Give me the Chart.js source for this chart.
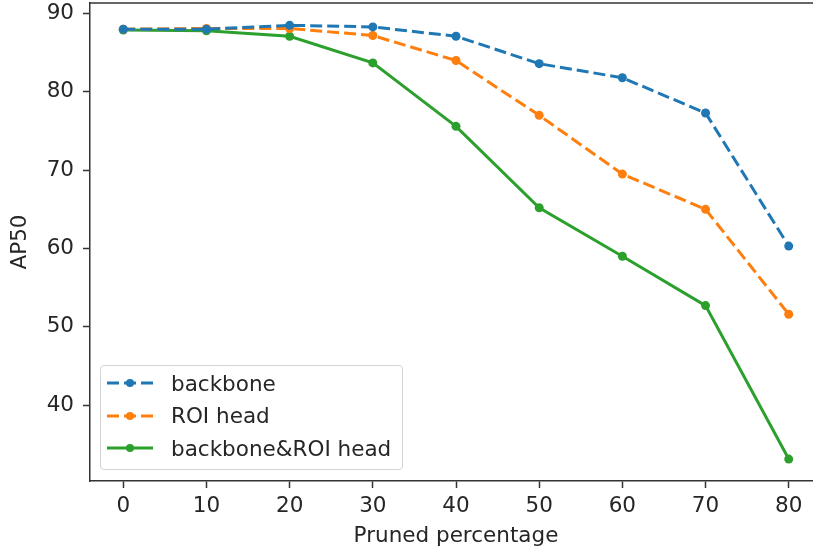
<!DOCTYPE html>
<html>
<head>
<meta charset="utf-8">
<script src="https://cdn.jsdelivr.net/npm/chart.js@4/dist/chart.umd.min.js"></script>
<style>
  html, body { margin: 0; padding: 0; background: #fff; overflow: hidden; }
  #wrap { position: relative; width: 813px; height: 552px; overflow: hidden; background: #fff; }
  #c { display: block; }
  #legend {
    position: absolute; left: 100px; top: 365px; width: 301px; height: 103px;
    border: 1px solid #d4d4d4; border-radius: 4px; background: rgba(255,255,255,0.85);
    font-family: "DejaVu Sans", sans-serif; font-size: 21.5px; color: #262626;
  }
  #legend .row { position: absolute; left: 0; height: 32px; display: flex; align-items: center; }
  #legend svg { margin-left: 6px; margin-right: 18px; }
</style>
</head>
<body>
<div id="wrap">
  <canvas id="c" width="830" height="552"></canvas>
  <div id="legend"></div>
</div>
<script>
// pruned percentage on x
const pruned = [0, 10, 20, 30, 40, 50, 60, 70, 80];
// AP50
const backbone    = [88.0, 88.0, 88.5, 88.3, 87.1, 83.6, 81.8, 77.3, 60.3];
const roiHead     = [88.0, 88.1, 88.1, 87.2, 84.0, 77.0, 69.5, 65.0, 51.6];
const bothPruned  = [87.9, 87.8, 87.1, 83.7, 75.6, 65.2, 59.0, 52.7, 33.1];
const seriesNames = ['backbone', 'ROI head', 'backbone&ROI head'];

const FONT = { family: '"DejaVu Sans", sans-serif', size: 21.5 };
const INK = '#262626';

function pts(vals){ return pruned.map((x, i) => ({ x: x, y: vals[i] })); }

function line(label, vals, color, dash){
  return {
    label, data: pts(vals),
    borderColor: color, backgroundColor: color,
    borderWidth: 3, borderDash: dash,
    pointRadius: 4.5, pointHoverRadius: 4.5, pointBorderWidth: 0,
    pointBackgroundColor: color, tension: 0
  };
}

// top spine only; the right one is cut off in the original picture
const topSpine = {
  id: 'topSpine',
  afterDraw(chart){
    const a = chart.chartArea, ctx = chart.ctx;
    ctx.save();
    ctx.strokeStyle = '#333';
    ctx.lineWidth = 1.5;
    ctx.beginPath();
    ctx.moveTo(a.left, a.top);
    ctx.lineTo(a.right, a.top);
    ctx.stroke();
    ctx.restore();
  }
};

// no extra room for edge labels, the ticks sit well inside
function noEdgePad(s){
  s.paddingTop = 0; s.paddingBottom = 0; s.paddingLeft = 0; s.paddingRight = 0;
}

const chart = new Chart(document.getElementById('c'), {
  type: 'line',
  data: {
    datasets: [
      line(seriesNames[0], backbone, '#1f77b4', [12, 5]),
      line(seriesNames[1], roiHead, '#ff7f0e', [12, 5]),
      line(seriesNames[2], bothPruned, '#2ca02c', [])
    ]
  },
  options: {
    responsive: false,
    animation: false,
    devicePixelRatio: 1,
    layout: { autoPadding: false, padding: { top: 3, right: 8, left: 0, bottom: 0 } },
    plugins: { legend: { display: false }, tooltip: { enabled: false } },
    scales: {
      x: {
        type: 'linear', min: -4, max: 84,
        border: { display: true, color: '#333', width: 1.5 },
        grid: { drawOnChartArea: false, tickLength: 7, color: '#333', tickWidth: 1.5 },
        ticks: { stepSize: 10, includeBounds: false, font: FONT, color: INK, padding: 6, maxRotation: 0 },
        title: { display: true, text: 'Pruned percentage', font: FONT, color: INK, padding: { top: 0, bottom: 3 } },
        afterFit(s){ s.height = 71; noEdgePad(s); }
      },
      y: {
        min: 30.3, max: 91.35,
        border: { display: true, color: '#333', width: 1.5 },
        grid: { drawOnChartArea: false, tickLength: 7, color: '#333', tickWidth: 1.5 },
        ticks: { stepSize: 10, includeBounds: false, font: FONT, color: INK, padding: 9 },
        title: { display: true, text: 'AP50', font: FONT, color: INK, padding: { top: 8, bottom: 0 } },
        afterFit(s){ s.width = 90; noEdgePad(s); }
      }
    }
  },
  plugins: [topSpine]
});

// legend inside the axes, bottom left
(function buildLegend(){
  const box = document.getElementById('legend');
  chart.data.datasets.forEach((ds, i) => {
    const row = document.createElement('div');
    row.className = 'row';
    row.style.top = (1 + i * 32.5) + 'px';
    const dash = ds.borderDash.length ? 'stroke-dasharray="12 5"' : '';
    row.innerHTML =
      '<svg width="46" height="12"><line x1="0" y1="6" x2="46" y2="6" stroke="' + ds.borderColor +
      '" stroke-width="3" ' + dash + '/><circle cx="23" cy="6" r="4" fill="' + ds.borderColor + '"/></svg>' +
      '<span>' + ds.label + '</span>';
    box.appendChild(row);
  });
})();
</script>
</body>
</html>
